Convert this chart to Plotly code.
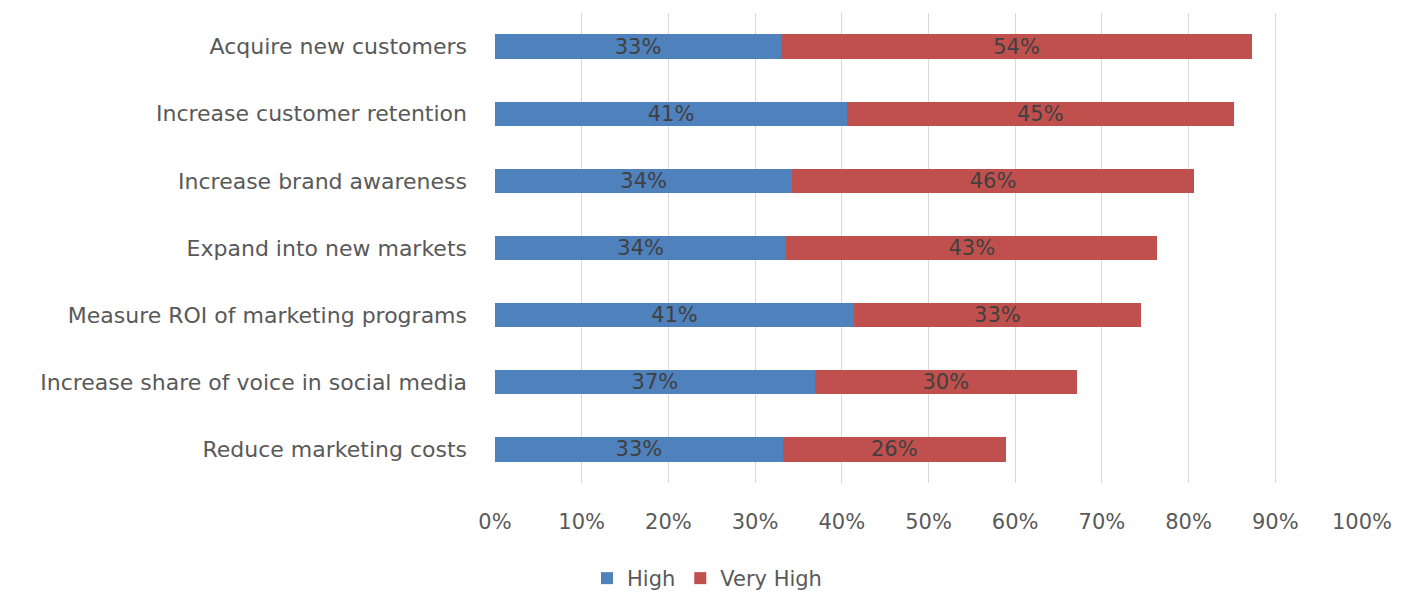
import plotly.graph_objects as go

categories = ["Acquire new customers", "Increase customer retention", "Increase brand awareness",
              "Expand into new markets", "Measure ROI of marketing programs",
              "Increase share of voice in social media", "Reduce marketing costs"]
high = [0.330, 0.406, 0.343, 0.336, 0.414, 0.369, 0.332]
very_high = [0.543, 0.446, 0.463, 0.428, 0.331, 0.302, 0.257]
tick_vals = [0, 0.1, 0.2, 0.3, 0.4, 0.5, 0.6, 0.7, 0.8, 0.9, 1.0]

FONT = "DejaVu Sans"
fig = go.Figure()
for name, vals, color in [("High", high, "#4f81bd"), ("Very High", very_high, "#c0504d")]:
    fig.add_trace(go.Bar(y=categories, x=vals, name=name, orientation="h",
                         marker=dict(color=color, line=dict(width=0)),
                         texttemplate="%{x:.0%}", textposition="inside",
                         insidetextanchor="middle", constraintext="none",
                         textfont=dict(color="#404040", size=21, family=FONT)))

fig.update_layout(
    barmode="stack", bargap=0.64,
    width=1414, height=599,
    margin=dict(l=495, r=52, t=13, b=116),
    plot_bgcolor="white", paper_bgcolor="white",
    font=dict(family=FONT, color="#595959", size=21),
    xaxis=dict(range=[0, 1.0], tickvals=tick_vals, tickformat=".0%",
               showgrid=True, gridcolor="#d9d9d9", gridwidth=1.3, zeroline=False,
               showline=False, ticks="", tickfont=dict(size=21), ticklabelstandoff=24),
    yaxis=dict(autorange="reversed", showgrid=False, zeroline=False, showline=False,
               ticks="", tickfont=dict(size=22), ticklabelstandoff=27),
    legend=dict(orientation="h", x=0.5, xref="container", xanchor="center",
                y=0.0, yref="container", yanchor="bottom",
                font=dict(size=21), traceorder="normal"),
)
fig.write_html("out.html")
